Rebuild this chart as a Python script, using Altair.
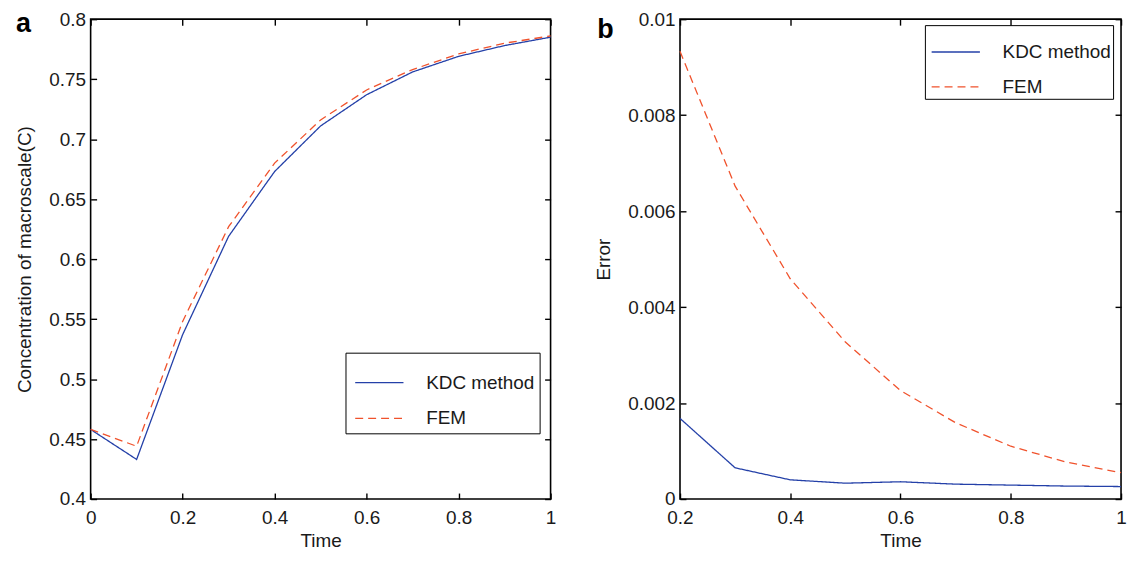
import altair as alt
import pandas as pd

# ---------------- data ----------------
series_names = ["KDC method", "FEM"]

time_a = [0.0, 0.1, 0.2, 0.3, 0.4, 0.5, 0.6, 0.7, 0.8, 0.9, 1.0]
kdc_a = [0.458, 0.433, 0.537, 0.619, 0.673, 0.711, 0.737, 0.756, 0.769, 0.778, 0.785]
fem_a = [0.458, 0.444, 0.548, 0.627, 0.680, 0.716, 0.741, 0.758, 0.771, 0.780, 0.786]

time_b = [0.2, 0.3, 0.4, 0.5, 0.6, 0.7, 0.8, 0.9, 1.0]
kdc_b = [0.00168, 0.00065, 0.00040, 0.00033, 0.00036, 0.00031, 0.00029, 0.00027, 0.00026]
fem_b = [0.00933, 0.00652, 0.00459, 0.00327, 0.00226, 0.00159, 0.00110, 0.00077, 0.00055]

ticks_a_x = [0, 0.2, 0.4, 0.6, 0.8, 1]
ticks_a_y = [0.4, 0.45, 0.5, 0.55, 0.6, 0.65, 0.7, 0.75, 0.8]
ticks_b_x = [0.2, 0.4, 0.6, 0.8, 1]
ticks_b_y = [0, 0.002, 0.004, 0.006, 0.008, 0.01]

colors = ["#2440a8", "#f0522c"]
dashes = [[1, 0], [8, 5]]
FONT = "Liberation Sans"
TXT = "#1a1a1a"


def long_df(t, a, b):
    rows = []
    for ti, v in zip(t, a):
        rows.append({"t": ti, "v": v, "series": series_names[0]})
    for ti, v in zip(t, b):
        rows.append({"t": ti, "v": v, "series": series_names[1]})
    return pd.DataFrame(rows)


def axis(orient, values, title=None, labels=True):
    kw = dict(
        orient=orient, values=values, format="~g", domain=False,
        tickSize=6, offset=-6, tickColor="black", tickWidth=1.4,
        labels=labels, labelFontSize=19, labelFont=FONT, labelColor=TXT,
        labelPadding=10 if orient == "bottom" else 5,
        labelFlush=False, labelOverlap=False, grid=False,
        titleFont=FONT, titleFontSize=19, titleFontWeight="normal", titleColor=TXT,
    )
    if title:
        kw["title"] = title
        kw["titlePadding"] = 4 if orient == "bottom" else 14
    else:
        kw["title"] = None
    return alt.Axis(**kw)


def panel(df, xdom, ydom, xt, yt, ytitle, letter, letter_xy, legend_xy, leg_pad, leg_row, w, h):
    xs = alt.Scale(domain=xdom, nice=False, zero=False)
    ys = alt.Scale(domain=ydom, nice=False, zero=False)
    legend_kw = dict(
        orient="none", legendX=legend_xy[0], legendY=legend_xy[1], title=None,
        symbolType="stroke", symbolSize=2350, symbolStrokeWidth=1.3,
        labelFontSize=19, labelFont=FONT, labelColor=TXT, labelOffset=22,
        strokeColor="black", fillColor="white", padding=leg_pad, rowPadding=leg_row,
        symbolOffset=4, labelLimit=300,
    )
    lines = alt.Chart(df).mark_line(strokeWidth=1.3).encode(
        x=alt.X("t:Q", scale=xs, axis=axis("bottom", xt, "Time")),
        y=alt.Y("v:Q", scale=ys, axis=axis("left", yt, ytitle)),
        color=alt.Color("series:N", scale=alt.Scale(domain=series_names, range=colors),
                        legend=alt.Legend(**legend_kw)),
        strokeDash=alt.StrokeDash("series:N", scale=alt.Scale(domain=series_names, range=dashes),
                                  legend=alt.Legend(**legend_kw)),
        detail="series:N",
    )
    mirror = alt.Chart(df).mark_line(opacity=0).encode(
        x=alt.X("t:Q", scale=xs, axis=axis("top", xt, labels=False)),
        y=alt.Y("v:Q", scale=ys, axis=axis("right", yt, labels=False)),
        detail="series:N",
    )
    lab = alt.Chart(pd.DataFrame({"txt": [letter]})).mark_text(
        font=FONT, fontSize=27, fontWeight="bold", align="left", baseline="alphabetic", color="black"
    ).encode(text="txt:N", x=alt.value(letter_xy[0]), y=alt.value(letter_xy[1]))
    return alt.layer(lines, mirror, lab).resolve_axis(x="independent", y="independent").properties(
        width=w, height=h
    )


df_a = long_df(time_a, kdc_a, fem_a)
df_b = long_df(time_b, kdc_b, fem_b)

pa = panel(df_a, [0, 1], [0.4, 0.8], ticks_a_x, ticks_a_y, "Concentration of macroscale(C)",
           "a", (-75, 13), (256, 335), 5, 1, 462, 482)
pb = panel(df_b, [0.2, 1], [0, 0.01], ticks_b_x, ticks_b_y, "Error",
           "b", (-83, 19), (246, 6), 2, -1, 443, 482)

chart = alt.hconcat(pa, pb, spacing=36).resolve_scale(
    color="independent", strokeDash="independent"
).properties(
    padding={"left": 7, "top": 0, "right": 0, "bottom": 0},
    background="white",
).configure_view(stroke="black", strokeWidth=1.6)

chart.save("out.html", embed_options={"renderer": "svg", "actions": False})
